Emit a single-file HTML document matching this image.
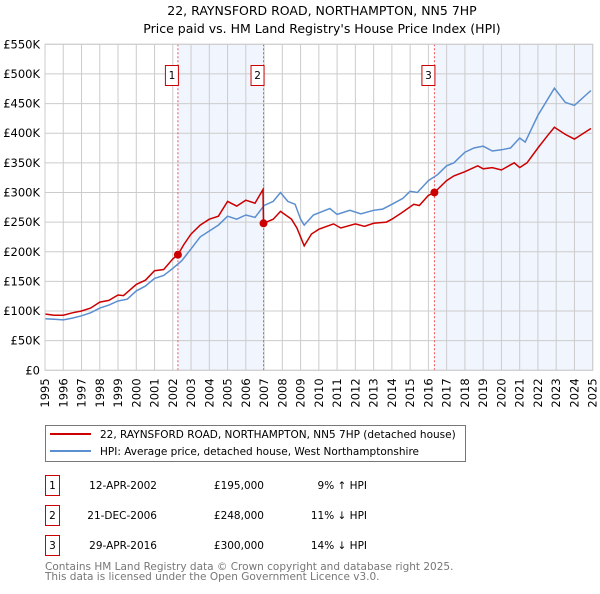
<!DOCTYPE html>
<html><head><meta charset="utf-8"><style>
body{margin:0;background:#fff;font-family:"DejaVu Sans","Liberation Sans",sans-serif;}
svg text{font-family:"DejaVu Sans","Liberation Sans",sans-serif;}
</style></head><body>
<svg id="chart" width="600" height="590" viewBox="0 0 600 590" xmlns="http://www.w3.org/2000/svg">
<text x="322" y="15" text-anchor="middle" font-size="12.5" fill="#000">22, RAYNSFORD ROAD, NORTHAMPTON, NN5 7HP</text>
<text x="322" y="33" text-anchor="middle" font-size="12.5" fill="#000">Price paid vs. HM Land Registry's House Price Index (HPI)</text>
<g id="shade"></g><g id="grid"></g><g id="vlines"></g><g id="series"></g><g id="axes"></g>
<rect x="45.5" y="425.5" width="420" height="36" fill="#fff" stroke="#777"/>
<line x1="50" y1="434" x2="91" y2="434" stroke="#cc0000" stroke-width="2"/>
<text x="100" y="438" font-size="10.5">22, RAYNSFORD ROAD, NORTHAMPTON, NN5 7HP (detached house)</text>
<line x1="50" y1="451" x2="91" y2="451" stroke="#5b8fd0" stroke-width="2"/>
<text x="100" y="455" font-size="10.5">HPI: Average price, detached house, West Northamptonshire</text>
<g font-size="10.5">
<rect x="45.5" y="475.5" width="14" height="20" fill="none" stroke="#cc0000"/><text x="52.5" y="489" text-anchor="middle">1</text>
<text x="157" y="489" text-anchor="end">12-APR-2002</text><text x="264" y="489" text-anchor="end">£195,000</text><text x="367" y="489" text-anchor="end">9% ↑ HPI</text>
<rect x="45.5" y="505.5" width="14" height="20" fill="none" stroke="#cc0000"/><text x="52.5" y="519" text-anchor="middle">2</text>
<text x="157" y="519" text-anchor="end">21-DEC-2006</text><text x="264" y="519" text-anchor="end">£248,000</text><text x="367" y="519" text-anchor="end">11% ↓ HPI</text>
<rect x="45.5" y="535.5" width="14" height="20" fill="none" stroke="#cc0000"/><text x="52.5" y="549" text-anchor="middle">3</text>
<text x="157" y="549" text-anchor="end">29-APR-2016</text><text x="264" y="549" text-anchor="end">£300,000</text><text x="367" y="549" text-anchor="end">14% ↓ HPI</text>
</g>
<text x="45" y="570" font-size="10.5" fill="#777">Contains HM Land Registry data © Crown copyright and database right 2025.</text>
<text x="45" y="580" font-size="10.5" fill="#777">This data is licensed under the Open Government Licence v3.0.</text>
</svg>
<script>
const yearTicks=[1995,1996,1997,1998,1999,2000,2001,2002,2003,2004,2005,2006,2007,2008,2009,2010,2011,2012,2013,2014,2015,2016,2017,2018,2019,2020,2021,2022,2023,2024,2025];
const priceTicks=[0,50,100,150,200,250,300,350,400,450,500,550];
const priceLabels=["£0","£50K","£100K","£150K","£200K","£250K","£300K","£350K","£400K","£450K","£500K","£550K"];
const saleDates=[2002.28,2006.97,2016.33];
const salePrices=[195,248,300];
const saleLabels=["1","2","3"];
const propT=[1995,1995.5,1996,1996.5,1997,1997.5,1998,1998.5,1999,1999.3,2000,2000.5,2001,2001.5,2002,2002.28,2002.6,2003,2003.5,2004,2004.5,2005,2005.5,2006,2006.5,2006.94,2006.97,2007.5,2007.9,2008.5,2008.8,2009.2,2009.6,2010,2010.8,2011.2,2012,2012.5,2013,2013.7,2014,2014.5,2015.2,2015.5,2016,2016.33,2017,2017.4,2018,2018.7,2019,2019.5,2020,2020.7,2021,2021.4,2022,2022.5,2022.9,2023.5,2024,2024.9];
const propV=[95,93,93,97,100,105,115,118,127,126,145,152,168,170,188,195,212,230,245,255,260,285,277,287,282,305,248,255,268,255,240,210,230,238,247,240,247,243,248,250,255,265,280,278,295,300,320,328,335,345,340,342,338,350,342,350,375,395,410,398,390,408];
const hpiT=[1995,1995.5,1996,1996.5,1997,1997.5,1998,1998.5,1999,1999.5,2000,2000.5,2001,2001.5,2002,2002.5,2003,2003.5,2004,2004.5,2005,2005.5,2006,2006.5,2007,2007.5,2007.9,2008.3,2008.7,2009,2009.2,2009.7,2010.2,2010.6,2011,2011.7,2012.3,2013,2013.5,2014,2014.6,2015,2015.4,2016,2016.5,2017,2017.4,2018,2018.5,2019,2019.5,2020,2020.5,2021,2021.3,2022,2022.9,2023.5,2024,2024.9];
const hpiV=[87,86,85,88,92,97,105,110,117,120,134,142,155,160,172,185,205,225,235,245,260,255,262,258,278,285,300,285,280,255,245,262,268,273,263,270,264,270,272,280,290,302,300,320,330,345,350,368,375,378,370,372,375,392,385,430,476,452,447,472];
const X0=45,X1=592.7,Y0=370.3,Y1=44.3;
const sx=t=>X0+(t-1995)/30*(X1-X0);
const sy=v=>Y0-v/550*(Y0-Y1);
const NS="http://www.w3.org/2000/svg";
function mk(tag,attrs,parent,txt){const e=document.createElementNS(NS,tag);for(const k in attrs)e.setAttribute(k,attrs[k]);if(txt!==undefined)e.textContent=txt;document.getElementById(parent).appendChild(e);return e;}
// shading
let s1=mk('rect',{x:sx(saleDates[0]),y:Y1,width:sx(saleDates[1])-sx(saleDates[0]),height:Y0-Y1,fill:'#eef3fc',opacity:0.8},'shade');


let s2=mk('rect',{x:sx(saleDates[2]),y:Y1,width:X1-sx(saleDates[2]),height:Y0-Y1,fill:'#eef3fc',opacity:0.8},'shade');


yearTicks.forEach(y=>{
 let l=mk('line',{x1:sx(y),x2:sx(y),y1:Y1,y2:Y0,stroke:'#cccccc','stroke-width':1},'grid');
 
 
 let t=mk('text',{x:0,y:0,'font-size':11.5,'text-anchor':'end',transform:`translate(${sx(y)+4},${Y0+8}) rotate(-90)`},'axes',String(y));
 
 
});
priceTicks.forEach((p,i)=>{
 let l=mk('line',{x1:X0,x2:X1,y1:sy(p),y2:sy(p),stroke:'#cccccc','stroke-width':1},'grid');
 
 
 let t=mk('text',{x:40,y:sy(p)+4,'font-size':11.5,'text-anchor':'end'},'axes',priceLabels[i]);
 
 
});
saleDates.forEach((d,i)=>{
 let l=mk('line',{x1:sx(d),x2:sx(d),y1:Y1,y2:Y0,stroke:'#ee5555','stroke-width':1,'stroke-dasharray':'2,2'},'vlines');
 
 
 let r=mk('rect',{x:sx(d)-12.5,y:65.5,width:13,height:20,fill:'#fff',stroke:'#cc0000'},'vlines');
 
 
 let t=mk('text',{x:sx(d)-6,y:79,'font-size':10.5,'text-anchor':'middle'},'vlines',saleLabels[i]);
 
 
});
function path(T,V){return T.map((t,i)=>(i?'L':'M')+sx(t).toFixed(1)+','+sy(V[i]).toFixed(1)).join('');}
let hp=mk('path',{d:path(hpiT,hpiV),fill:'none',stroke:'#5b8fd0','stroke-width':1.5},'series');


let pp=mk('path',{d:path(propT,propV),fill:'none',stroke:'#cc0000','stroke-width':1.5},'series');


saleDates.forEach((d,i)=>{
 let c=mk('circle',{cx:sx(d),cy:sy(salePrices[i]),r:4,fill:'#cc0000'},'series');
 
 
});
let fr=mk('rect',{x:X0,y:Y1,width:X1-X0,height:Y0-Y1,fill:'none',stroke:'#cccccc'},'axes');


</script>
</body></html>
